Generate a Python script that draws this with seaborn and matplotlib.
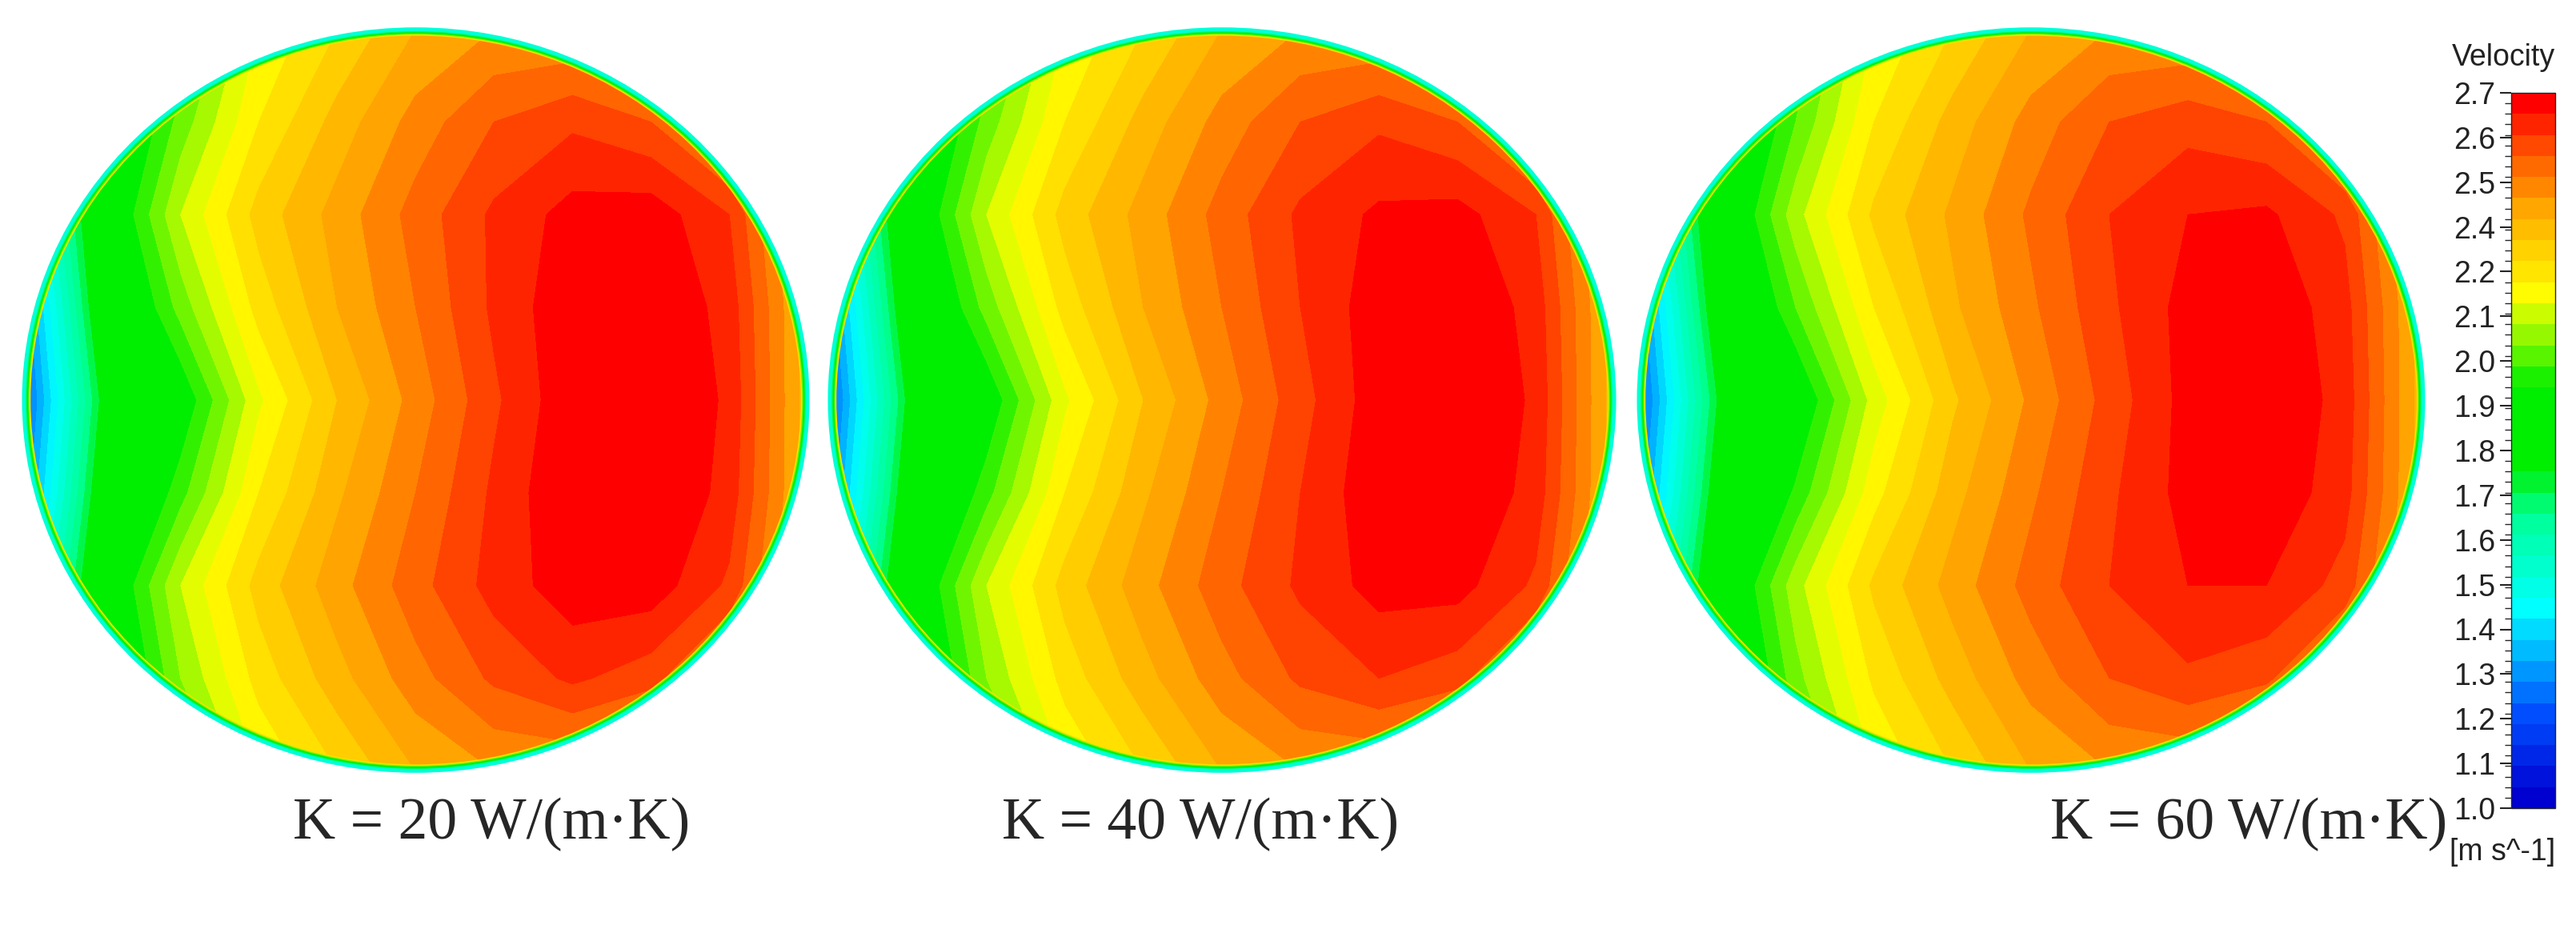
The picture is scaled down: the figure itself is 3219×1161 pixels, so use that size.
import numpy as np
import matplotlib
matplotlib.use("Agg")
import matplotlib.pyplot as plt
import seaborn as sns
from matplotlib.colors import LinearSegmentedColormap, BoundaryNorm
from matplotlib.patches import Ellipse

sns.set_theme(style="white")

# grid of velocity values (rows top->bottom, cols left->right)
grid_x = [-1.0, -0.8, -0.6, -0.4, -0.2, 0.0, 0.2, 0.4, 0.6, 0.8, 1.0]
grid_y = [1.0, 0.75, 0.5, 0.25, 0.0, -0.25, -0.5, -0.75, -1.0]

vel_k20 = [
    [1.7, 1.85, 2.05, 2.25, 2.35, 2.45, 2.5, 2.5, 2.45, 2.35, 2.25],
    [1.6, 1.9, 2.12, 2.3, 2.42, 2.52, 2.6, 2.64, 2.6, 2.48, 2.3],
    [1.4, 1.95, 2.2, 2.37, 2.47, 2.57, 2.66, 2.72, 2.73, 2.65, 2.4],
    [1.3, 1.9, 2.12, 2.32, 2.45, 2.55, 2.66, 2.74, 2.75, 2.68, 2.42],
    [1.25, 1.82, 2.0, 2.24, 2.4, 2.52, 2.64, 2.74, 2.76, 2.69, 2.42],
    [1.3, 1.88, 2.08, 2.3, 2.44, 2.55, 2.66, 2.75, 2.76, 2.68, 2.42],
    [1.4, 1.95, 2.2, 2.37, 2.48, 2.58, 2.67, 2.73, 2.73, 2.64, 2.4],
    [1.6, 1.9, 2.15, 2.32, 2.43, 2.53, 2.61, 2.66, 2.62, 2.5, 2.3],
    [1.7, 1.85, 2.05, 2.25, 2.35, 2.45, 2.5, 2.5, 2.45, 2.35, 2.25],
]
vel_k40 = [
    [1.7, 1.85, 2.05, 2.25, 2.35, 2.45, 2.5, 2.5, 2.45, 2.35, 2.25],
    [1.6, 1.9, 2.12, 2.3, 2.42, 2.52, 2.6, 2.64, 2.6, 2.48, 2.3],
    [1.4, 1.95, 2.2, 2.37, 2.47, 2.57, 2.66, 2.71, 2.72, 2.65, 2.4],
    [1.3, 1.9, 2.12, 2.32, 2.45, 2.55, 2.65, 2.73, 2.75, 2.68, 2.42],
    [1.25, 1.82, 2.0, 2.24, 2.4, 2.52, 2.63, 2.73, 2.76, 2.69, 2.42],
    [1.3, 1.88, 2.08, 2.3, 2.44, 2.55, 2.65, 2.74, 2.75, 2.68, 2.42],
    [1.4, 1.95, 2.2, 2.37, 2.48, 2.58, 2.66, 2.72, 2.72, 2.64, 2.4],
    [1.6, 1.9, 2.15, 2.32, 2.43, 2.53, 2.61, 2.65, 2.62, 2.5, 2.3],
    [1.7, 1.85, 2.05, 2.25, 2.35, 2.45, 2.5, 2.5, 2.45, 2.35, 2.25],
]
vel_k60 = [
    [1.7, 1.85, 2.05, 2.25, 2.35, 2.45, 2.5, 2.5, 2.45, 2.35, 2.25],
    [1.6, 1.88, 2.1, 2.3, 2.42, 2.52, 2.6, 2.63, 2.6, 2.48, 2.3],
    [1.4, 1.93, 2.18, 2.36, 2.46, 2.56, 2.65, 2.7, 2.71, 2.64, 2.4],
    [1.3, 1.88, 2.1, 2.3, 2.44, 2.54, 2.64, 2.72, 2.74, 2.67, 2.42],
    [1.25, 1.8, 1.98, 2.22, 2.39, 2.51, 2.62, 2.72, 2.75, 2.68, 2.42],
    [1.3, 1.86, 2.06, 2.28, 2.43, 2.54, 2.64, 2.72, 2.74, 2.67, 2.42],
    [1.4, 1.93, 2.18, 2.36, 2.47, 2.57, 2.65, 2.7, 2.7, 2.63, 2.4],
    [1.6, 1.88, 2.13, 2.31, 2.42, 2.52, 2.6, 2.64, 2.61, 2.5, 2.3],
    [1.7, 1.85, 2.05, 2.25, 2.35, 2.45, 2.5, 2.5, 2.45, 2.35, 2.25],
]
case_labels = ["K = 20 W/(m·K)", "K = 40 W/(m·K)", "K = 60 W/(m·K)"]
wall_ring = [2.3, 2.1, 1.9, 1.75, 1.55]  # thin wall layer, inner -> outer

cbar_labels = ["2.7", "2.6", "2.5", "2.4", "2.2", "2.1", "2.0", "1.9", "1.8",
               "1.7", "1.6", "1.5", "1.4", "1.3", "1.2", "1.1", "1.0"]

cmap = LinearSegmentedColormap.from_list("ansys", [
    (0.0, "#0000d0"), (0.12, "#0050ff"), (0.27, "#00ffff"), (0.41, "#00ff90"),
    (0.47, "#00ee00"), (0.59, "#00ee00"), (0.72, "#ffff00"), (0.85, "#ffa500"),
    (0.93, "#ff5000"), (1.0, "#ff0000")])
levels = np.linspace(1.0, 2.7, 35)
norm = BoundaryNorm(levels, cmap.N, extend="max")

fig = plt.figure(figsize=(32.19, 11.61), dpi=100)
W, H = 3219, 1161
circles_px = [(25, 1014), (1032, 2022), (2043, 3033)]
top, bot = 32, 968
label_x = [614, 1500, 2810]

for (x0, x1), vel, lab, lx in zip(circles_px, [vel_k20, vel_k40, vel_k60], case_labels, label_x):
    ax = fig.add_axes([x0 / W, 1 - bot / H, (x1 - x0) / W, (bot - top) / H])
    cs = ax.contourf(grid_x, grid_y, np.array(vel), levels=list(levels) + [3.0],
                     cmap=cmap, norm=norm)
    clip = Ellipse((0, 0), 2, 2, transform=ax.transData)
    cs.set_clip_path(clip)
    for i, v in enumerate(wall_ring):
        d = 2 - 0.006 * (len(wall_ring) - 1 - i)
        ax.add_patch(Ellipse((0, 0), d, d, fill=False, lw=3.5, ec=cmap(norm(v))))
    ax.set_xlim(-1.01, 1.01)
    ax.set_ylim(-1.01, 1.01)
    ax.axis("off")
    fig.text(lx / W, 1 - 1030 / H, lab, ha="center", va="center",
             fontsize=53, family=["Liberation Serif", "DejaVu Serif"])

# colorbar
cax = fig.add_axes([3138 / W, 1 - 1010 / H, 55 / W, 894 / H])
sm = matplotlib.cm.ScalarMappable(norm=BoundaryNorm(levels, cmap.N), cmap=cmap)
cb = fig.colorbar(sm, cax=cax, boundaries=levels, ticks=np.linspace(2.7, 1.0, 17),
                  extend="neither")
cb.outline.set_linewidth(1)
cax.yaxis.set_ticks_position("left")
cax.yaxis.set_tick_params(length=10, width=1.5, labelsize=27, pad=4)
cax.set_yticklabels(cbar_labels, family="Liberation Sans", color="#222222")
cax.set_yticks(np.linspace(1.0, 2.7, 69), minor=True)
cax.yaxis.set_tick_params(which="minor", length=6, width=1)
fig.text(3193 / W, 1 - 72 / H, "Velocity", ha="right", va="center",
         fontsize=27, family="Liberation Sans", color="#222222")
fig.text(3193 / W, 1 - 1065 / H, "[m s^-1]", ha="right", va="center",
         fontsize=27, family="Liberation Sans", color="#222222")

fig.savefig("out.png", dpi=100, facecolor="white")
